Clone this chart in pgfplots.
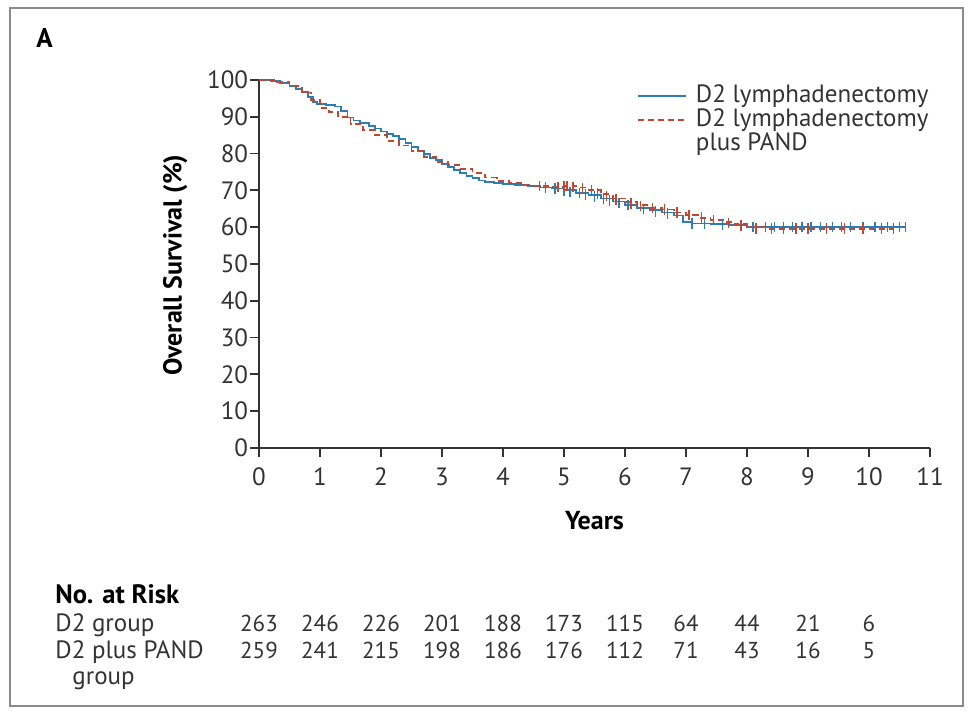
\documentclass[border=0pt]{standalone}
\usepackage{fontspec}
\setmainfont{PT Sans}
\usepackage{pgfplots}
\pgfplotsset{compat=1.18}
\definecolor{kmblue}{HTML}{2B7DB4}
\definecolor{kmred}{HTML}{C6452E}
\definecolor{axgray}{HTML}{333333}
\definecolor{framegray}{HTML}{8A8A8A}

\begin{document}
\fontsize{12.5}{14}\selectfont
\begin{tikzpicture}
% page frame and table in pixel units of the reference (y downwards)
\begin{scope}[x=0.5pt,y=-0.5pt]
\path[use as bounding box] (0,0) rectangle (971,716);
\draw[framegray, line width=1.4pt] (10,8) rectangle (963,706);
\node[anchor=base west, font=\bfseries\fontsize{13.5}{15}\selectfont, inner sep=0pt] at (36,48) {A};
% number at risk
\node[anchor=base west, inner sep=0pt, font=\bfseries\fontsize{13.3}{15}\selectfont] at (55,604) {No. at Risk};
\node[anchor=base west, inner sep=0pt, text=axgray] at (55,632) {D2 group};
\node[anchor=base west, inner sep=0pt, text=axgray] at (55,659) {D2 plus PAND};
\node[anchor=base west, inner sep=0pt, text=axgray] at (72,685) {group};
\foreach \n [count=\i from 0] in {263,246,226,201,188,173,115,64,44,21,6}
  \node[anchor=base, inner sep=0pt, text=axgray, font=\fontsize{11.5}{13}\selectfont] at ({259+61*\i},632) {\n};
\foreach \n [count=\i from 0] in {259,241,215,198,186,176,112,71,43,16,5}
  \node[anchor=base, inner sep=0pt, text=axgray, font=\fontsize{11.5}{13}\selectfont] at ({259+61*\i},659) {\n};
\end{scope}

\begin{axis}[
  at={(129.5pt,-224pt)}, anchor=south west,
  scale only axis, width=335.5pt, height=184pt,
  xmin=0, xmax=11, ymin=0, ymax=100,
  axis lines=left,
  axis line style={-, axgray, line width=1.1pt},
  xtick={0,1,...,11}, ytick={0,10,...,100},
  tick align=outside, major tick length=4.5pt,
  tick style={axgray, line width=0.9pt},
  ticklabel style={font=\fontsize{12.5}{14}\selectfont, text=axgray},
  yticklabel style={inner xsep=0.8pt},
  xticklabel style={yshift=-1pt},
  /pgf/number format/assume math mode=true,
  xlabel={\textbf{Years}},
  ylabel={\textbf{Overall Survival (\%)}},
  xlabel style={at={(axis description cs:0.5,-0.196)}, anchor=center, font=\fontsize{13}{15}\selectfont},
  ylabel style={at={(axis description cs:-0.125,0.497)}, anchor=center, font=\fontsize{13}{15}\selectfont},
  clip=false,
  legend style={draw=none, fill=none, at={(axis description cs:0.563,0.998)}, anchor=north west,
                font=\fontsize{12.5}{14}\selectfont, row sep=-2.8pt, inner sep=0pt, text=axgray},
  legend cell align=left,
  legend image code/.code={\draw[#1] (0pt,0pt) -- (24pt,0pt); \path (26.5pt,0pt);},
]
% D2 lymphadenectomy
\addplot[const plot, kmblue, line width=0.9pt] coordinates {
(0,100) (0.2,99.7) (0.35,99.2) (0.5,98.3) (0.6,97.5) (0.7,96.8) (0.8,95.3) (0.88,94.0)
(0.95,93.4) (1.1,93.2) (1.25,92.8) (1.35,91.5) (1.45,89.8) (1.55,89.0) (1.65,88.3)
(1.8,87.6) (1.9,86.8) (2.0,86.0) (2.1,85.3) (2.2,84.7) (2.3,84.0) (2.4,82.8) (2.5,81.8)
(2.6,80.8) (2.7,79.8) (2.8,78.8) (2.9,78.2) (3.0,77.2) (3.1,76.4) (3.2,75.6) (3.3,74.8)
(3.4,74.0) (3.5,73.3) (3.6,72.7) (3.7,72.3) (3.85,72.0) (4.0,71.8) (4.2,71.5) (4.4,71.2)
(4.6,70.8) (4.8,70.5) (5.0,70.0) (5.2,69.3) (5.4,68.7) (5.6,67.8) (5.8,67.0) (6.0,66.0)
(6.2,65.3) (6.4,64.6) (6.6,64.0) (6.8,63.2) (6.95,61.5) (7.1,61.0) (7.4,60.8) (7.7,60.5)
(8.0,60.1) (10.6,60.1)};
\addlegendentry{D2 lymphadenectomy}
% D2 plus PAND
\addplot[const plot, kmred, line width=0.9pt, dash pattern=on 3pt off 2pt] coordinates {
(0,100) (0.3,99.5) (0.5,98.3) (0.7,96.6) (0.85,94.5) (1.0,92.3) (1.15,91.3) (1.3,90.0)
(1.5,88.0) (1.7,86.5) (1.9,85.0) (2.1,83.4) (2.3,82.2) (2.5,80.6) (2.7,79.0) (2.9,77.8)
(3.1,76.8) (3.3,75.8) (3.5,74.8) (3.7,73.5) (3.9,72.6) (4.1,72.0) (4.3,71.6) (4.5,71.2)
(4.8,71.0) (5.0,71.2) (5.2,70.8) (5.4,70.2) (5.6,69.0) (5.8,67.8) (6.0,66.8) (6.2,66.0)
(6.4,65.3) (6.6,64.8) (6.8,64.0) (7.0,63.3) (7.2,62.6) (7.4,62.0) (7.6,61.5) (7.8,60.8)
(8.0,60.0) (8.3,59.6) (10.4,59.6)};
\addlegendentry{D2 lymphadenectomy}
\addlegendimage{empty legend}
\addlegendentry{plus PAND}
% censoring marks
\addplot[kmblue, only marks, mark=|, mark size=2.6pt, line width=0.7pt, forget plot] coordinates {
(4.7,70.8) (4.85,70.5) (5.0,70.0) (5.1,69.5) (5.25,69.3) (5.35,68.9) (5.5,68.3) (5.65,67.8)
(5.75,67.3) (5.9,66.6) (6.05,66.0) (6.3,65.0) (6.5,64.3) (6.7,63.7) (7.1,61.0) (7.3,60.9)
(7.6,60.6) (7.9,60.3) (8.1,60.1) (8.3,60.1) (8.45,60.1) (8.6,60.1) (8.75,60.1) (8.9,60.1)
(9.05,60.1) (9.2,60.1) (9.4,60.1) (9.55,60.1) (9.7,60.1) (9.9,60.1) (10.1,60.1) (10.3,60.1)
(10.5,60.1) (10.6,60.1)};
\addplot[kmred, only marks, mark=|, mark size=2.6pt, line width=0.7pt, forget plot] coordinates {
(4.6,71.2) (4.9,71.0) (5.0,71.2) (5.05,71.2) (5.15,70.9) (5.3,70.5) (5.45,70.0) (5.55,69.2)
(5.7,68.5) (5.85,67.5) (6.1,66.4) (6.25,65.8) (6.45,65.2) (6.65,64.8) (6.85,64.0) (7.05,63.3)
(7.25,62.6) (7.45,62.0) (7.7,61.2) (7.9,60.5) (8.15,59.6) (8.4,59.6) (8.6,59.6) (8.8,59.6)
(9.0,59.6) (9.3,59.6) (9.6,59.6) (9.9,59.6) (10.2,59.6) (10.4,59.6)};
\end{axis}
\end{tikzpicture}
\end{document}
